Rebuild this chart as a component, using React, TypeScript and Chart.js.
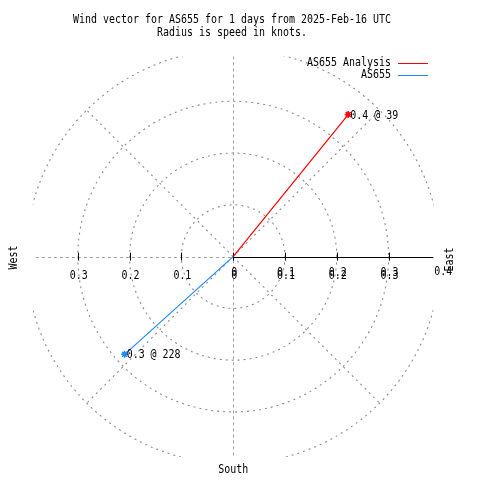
import React, { useEffect, useRef } from "react";
import { Chart, registerables } from "chart.js";

Chart.register(...registerables);

const titleLines = ["Wind vector for AS655 for 1 days from 2025-Feb-16 UTC", "Radius is speed in knots."];
const seriesNames = ["AS655 Analysis", "AS655"];
const speeds = [0.353, 0.282];
const directions = [39, 228];
const seriesColors = ["#ff0000", "#1e88ff"];
const radialTicks = [0.1, 0.2, 0.3, 0.4];
const radialTickLabels = ["0.1", "0.2", "0.3", "0.4"];
const spokeAngles = [45, 135, 225, 315];
const compassLabels = ["West", "East", "South"];

const PX_PER_KNOT = 530;
const CX = 233;
const CY = 257;
const BOX = 0.3868;

const FONT = '12px "DejaVu Sans Mono", monospace';
const SX = 0.83;

function drawText(ctx: CanvasRenderingContext2D, text: string, x: number, y: number, align: "left" | "right" | "center", rot = 0) {
  ctx.save();
  ctx.translate(x, y);
  if (rot) ctx.rotate(rot);
  ctx.scale(SX, 1);
  ctx.font = FONT;
  ctx.textAlign = align;
  ctx.textBaseline = "middle";
  ctx.fillStyle = "#000";
  ctx.fillText(text, 0, 0);
  ctx.restore();
}

const toXY = (s: number, d: number) => ({
  x: s * Math.sin((d * Math.PI) / 180),
  y: s * Math.cos((d * Math.PI) / 180),
});

const polarPlugin = {
  id: "polarGrid",
  beforeDatasetsDraw(chart: any) {
    const ctx: CanvasRenderingContext2D = chart.ctx;
    const xs = chart.scales.x;
    const ys = chart.scales.y;
    const cx = xs.getPixelForValue(0);
    const cy = ys.getPixelForValue(0);
    const rp = (r: number) => xs.getPixelForValue(r) - cx;
    const left = xs.getPixelForValue(-BOX);
    const right = xs.getPixelForValue(BOX);
    const top = ys.getPixelForValue(BOX);
    const bottom = ys.getPixelForValue(-BOX);

    ctx.save();
    ctx.beginPath();
    ctx.rect(left, top, right - left, bottom - top);
    ctx.clip();
    ctx.strokeStyle = "#8c8c8c";
    ctx.lineWidth = 1.1;
    ctx.setLineDash([2, 4]);
    for (const r of radialTicks) {
      ctx.beginPath();
      ctx.arc(cx, cy, rp(r), 0, Math.PI * 2);
      ctx.stroke();
    }
    const rmax = rp(radialTicks[radialTicks.length - 1]);
    for (const a of spokeAngles) {
      const rad = (a * Math.PI) / 180;
      ctx.beginPath();
      ctx.moveTo(cx, cy);
      ctx.lineTo(cx + rmax * Math.sin(rad), cy - rmax * Math.cos(rad));
      ctx.stroke();
    }
    ctx.lineWidth = 1;
    ctx.strokeStyle = "#a0a0a0";
    ctx.setLineDash([3, 3]);
    ctx.beginPath();
    ctx.moveTo(Math.round(cx) + 0.5, top);
    ctx.lineTo(Math.round(cx) + 0.5, bottom);
    ctx.stroke();
    ctx.beginPath();
    ctx.moveTo(left - 3, Math.round(cy) + 0.5);
    ctx.lineTo(cx, Math.round(cy) + 0.5);
    ctx.stroke();
    ctx.restore();

    ctx.save();
    ctx.strokeStyle = "#000";
    ctx.lineWidth = 1;
    ctx.setLineDash([]);
    ctx.beginPath();
    ctx.moveTo(cx, Math.round(cy) + 0.5);
    ctx.lineTo(right, Math.round(cy) + 0.5);
    ctx.stroke();
    const inside = radialTicks.filter((r) => r < BOX);
    const tickPos = [0, ...inside, ...inside.map((r) => -r)];
    for (const r of tickPos) {
      const px = Math.round(xs.getPixelForValue(r)) + 0.5;
      ctx.beginPath();
      ctx.moveTo(px, cy - 4);
      ctx.lineTo(px, cy + 4);
      ctx.stroke();
    }
    ctx.restore();
  },
  afterDatasetsDraw(chart: any) {
    const ctx: CanvasRenderingContext2D = chart.ctx;
    const xs = chart.scales.x;
    const ys = chart.scales.y;
    const cx = xs.getPixelForValue(0);
    const cy = ys.getPixelForValue(0);

    radialTicks.forEach((r, i) => {
      const lbl = radialTickLabels[i];
      if (r < BOX) {
        drawText(ctx, lbl, xs.getPixelForValue(-r) + 1, cy + 19, "center");
        drawText(ctx, lbl, xs.getPixelForValue(r) + 1, cy + 16, "center");
        drawText(ctx, lbl, xs.getPixelForValue(r) + 1, cy + 19, "center");
      } else {
        drawText(ctx, lbl, xs.getPixelForValue(r) + 3, cy + 15, "center");
      }
    });
    drawText(ctx, "0", cx + 1, cy + 16, "center");
    drawText(ctx, "0", cx + 1, cy + 19, "center");

    drawText(ctx, compassLabels[0], 14, cy + 1, "center", -Math.PI / 2);
    drawText(ctx, compassLabels[1], 450, cy + 3, "center", -Math.PI / 2);
    drawText(ctx, compassLabels[2], cx, 470, "center");

    drawText(ctx, titleLines[0], 232, 20, "center");
    drawText(ctx, titleLines[1], 232, 33, "center");

    seriesNames.forEach((name, i) => {
      const y = 63 + i * 12;
      drawText(ctx, name, 391, y, "right");
      ctx.save();
      ctx.globalAlpha = 1;
      ctx.fillStyle = seriesColors[i];
      ctx.fillRect(398, y, 30, 1);
      ctx.restore();
    });

    chart.data.datasets.forEach((ds: any, i: number) => {
      const meta = chart.getDatasetMeta(i);
      const pt = meta.data[1];
      const label = `${speeds[i].toFixed(1)} @ ${directions[i]}`;
      drawText(ctx, label, pt.x + 2, pt.y + 1, "left");
    });
  },
};

export default function App() {
  const ref = useRef<HTMLCanvasElement | null>(null);
  useEffect(() => {
    if (!ref.current) return;
    const datasets = seriesNames.map((name, i) => {
      const p = toXY(speeds[i], directions[i]);
      return {
        label: name,
        data: [{ x: 0, y: 0 }, p],
        showLine: true,
        borderColor: seriesColors[i],
        backgroundColor: seriesColors[i],
        borderWidth: 1.2,
        pointStyle: "star" as const,
        pointRadius: [0, 3.5],
        pointBorderColor: seriesColors[i],
        pointBorderWidth: 1.5,
        clip: false as any,
      };
    });
    const chart = new Chart(ref.current, {
      type: "scatter",
      data: { datasets },
      options: {
        animation: false,
        responsive: false,
        events: [],
        layout: { padding: 0 },
        plugins: { legend: { display: false }, tooltip: { enabled: false }, title: { display: false } },
        scales: {
          x: { type: "linear", display: false, min: -CX / PX_PER_KNOT, max: (480 - CX) / PX_PER_KNOT },
          y: { type: "linear", display: false, min: -(480 - CY) / PX_PER_KNOT, max: CY / PX_PER_KNOT },
        },
      },
      plugins: [polarPlugin],
    });
    return () => chart.destroy();
  }, []);
  return (
    <div style={{ position: "absolute", left: 0, top: 0, width: 480, height: 480, background: "#fff" }}>
      <canvas ref={ref} width={480} height={480} />
    </div>
  );
}
